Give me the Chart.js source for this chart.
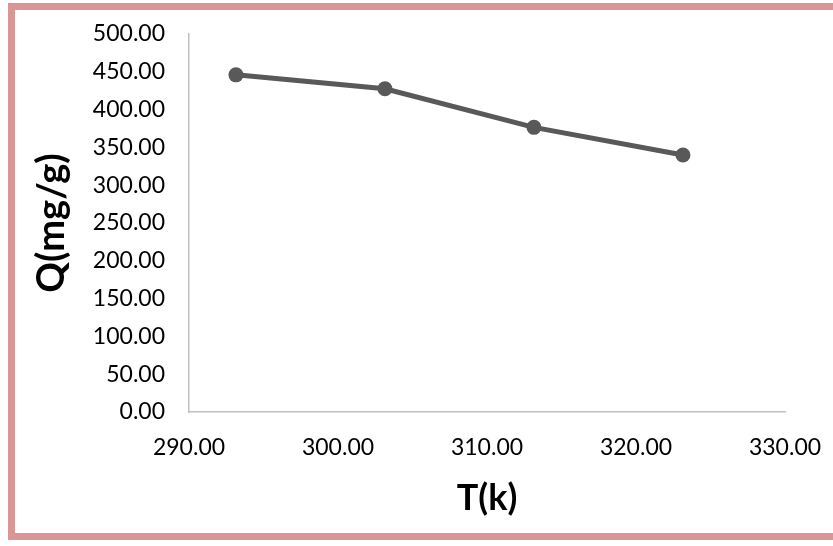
<!DOCTYPE html>
<html>
<head>
<meta charset="utf-8">
<script src="https://cdn.jsdelivr.net/npm/chart.js@4"></script>
<style>
  html, body { margin: 0; padding: 0; background: #ffffff; }
  #wrap { position: relative; width: 833px; height: 546px; overflow: hidden; background: #fff; }
  #c { position: absolute; left: 0; top: 0; }
  #frame { position: absolute; left: 8px; top: 3px; width: 860px; height: 537px; border: 7px solid #d99694; box-sizing: border-box; pointer-events: none; }
</style>
</head>
<body>
<div id="wrap">
  <canvas id="c" width="833" height="546"></canvas>
  <div id="frame"></div>
</div>
<script>
const temperatures = [293.15, 303.15, 313.15, 323.15];
const capacities = [446, 427.5, 376.5, 340];
const xTitle = 'T(k)';
const yTitle = 'Q(mg/g)';
const xRange = [290, 330, 10];
const yRange = [0, 500, 50];

const points = temperatures.map((t, i) => ({ x: t, y: capacities[i] }));
const fam = 'Lato, "Open Sans", sans-serif';

new Chart(document.getElementById('c'), {
  type: 'scatter',
  data: {
    datasets: [{
      data: points,
      showLine: true,
      borderColor: '#595959',
      backgroundColor: '#595959',
      borderWidth: 5,
      pointRadius: 7.5,
      pointHoverRadius: 7.5,
      pointBorderWidth: 0,
      pointBackgroundColor: '#595959',
      tension: 0
    }]
  },
  options: {
    responsive: false,
    animation: false,
    devicePixelRatio: 1,
    layout: { padding: { top: 34, right: 48, bottom: 0, left: 0 } },
    plugins: { legend: { display: false }, tooltip: { enabled: false } },
    scales: {
      x: {
        type: 'linear',
        min: xRange[0], max: xRange[1],
        afterFit: s => { s.height = 134; s.paddingLeft = 0; s.paddingRight = 0; },
        grid: { display: false, drawTicks: false },
        border: { display: true, color: '#c0c0c0', width: 1.5 },
        ticks: {
          stepSize: xRange[2],
          padding: 22,
          color: '#000',
          font: { family: fam, size: 23 },
          maxRotation: 0,
          callback: v => Number(v).toFixed(2)
        },
        title: {
          display: true, text: xTitle, color: '#000',
          font: { family: fam, size: 36, weight: 'bold' },
          padding: { top: 0, bottom: 26 }
        }
      },
      y: {
        type: 'linear',
        min: yRange[0], max: yRange[1],
        afterFit: s => { s.width = 189; s.paddingTop = 0; s.paddingBottom = 0; },
        grid: { display: false, drawTicks: false },
        border: { display: true, color: '#c0c0c0', width: 1.5 },
        ticks: {
          stepSize: yRange[2],
          padding: 24,
          color: '#000',
          font: { family: fam, size: 23 },
          callback: v => Number(v).toFixed(2)
        },
        title: {
          display: true, text: yTitle, color: '#000',
          font: { family: fam, size: 38, weight: 'bold' },
          padding: { top: 29, bottom: 0 }
        }
      }
    }
  }
});
</script>
</body>
</html>
